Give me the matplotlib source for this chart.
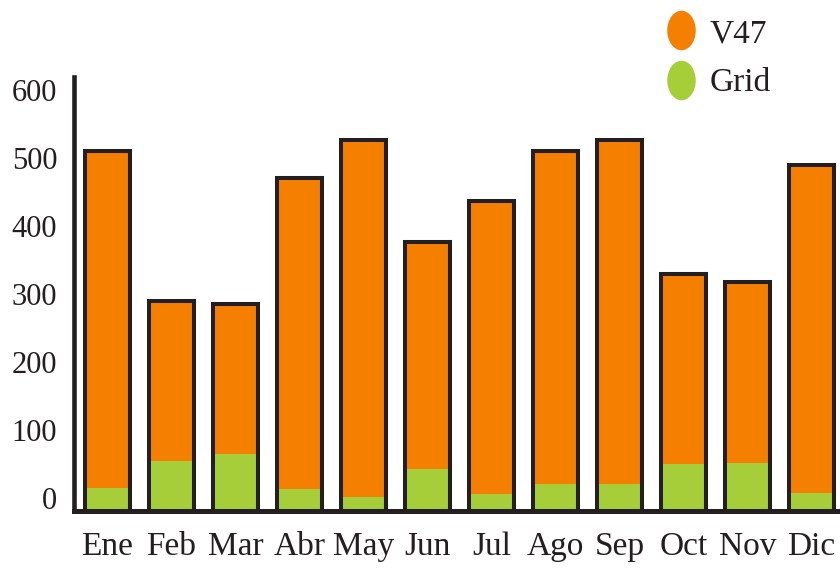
import matplotlib
matplotlib.use("Agg")
import matplotlib.pyplot as plt
import matplotlib.transforms as mtransforms
from matplotlib.lines import Line2D
from matplotlib.path import Path
import numpy as np

plt.rcParams['font.family'] = ['Liberation Serif', 'DejaVu Serif']

months = ['Ene', 'Feb', 'Mar', 'Abr', 'May', 'Jun', 'Jul', 'Ago', 'Sep', 'Oct', 'Nov', 'Dic']
grid = [34, 74, 84, 32, 20, 62, 25, 39, 40, 69, 71, 26]
v47 = [495, 234, 220, 457, 525, 334, 430, 490, 506, 279, 265, 482]
yticks = [0, 100, 200, 300, 400, 500, 600]

orange = '#f57f00'
green = '#a6ce39'
dark = '#231f20'

fig = plt.figure(figsize=(8.4, 5.68), dpi=100)
ax = fig.add_axes([74/840, 57/568, (840-74)/840, 434/568])

x = np.arange(len(months))
total = np.array(grid) + np.array(v47)
ax.bar(x, grid, width=0.7, color=green, linewidth=0)
ax.bar(x, v47, width=0.7, bottom=grid, color=orange, linewidth=0)
# one outline around the whole stack
ax.bar(x, total, width=0.7, fill=False, edgecolor=dark, linewidth=2.9)

ax.set_xlim(-0.523, 11.445)
ax.set_ylim(0, 638)

for side in ['top', 'right']:
    ax.spines[side].set_visible(False)
ax.spines['left'].set_linewidth(3.3)
ax.spines['bottom'].set_linewidth(3.6)
ax.spines['left'].set_color(dark)
ax.spines['bottom'].set_color(dark)
ax.spines['bottom'].set_zorder(5)

ax.set_xticks(x)
ax.set_xticklabels(months, fontsize=24, color=dark)
ax.set_yticks(yticks)
ax.set_yticklabels([str(v) for v in yticks], fontsize=22, color=dark)
ax.tick_params(axis='x', length=0, pad=15)
ax.tick_params(axis='y', length=0, pad=12)

shift = mtransforms.ScaledTranslation(0, 13/100, fig.dpi_scale_trans)
for lbl in ax.get_yticklabels():
    lbl.set_transform(lbl.get_transform() + shift)

circ = Path.unit_circle()
ellipse = Path(circ.vertices * [0.72, 1.0], circ.codes)
handles = [
    Line2D([], [], linestyle='none', marker=ellipse, markersize=28.5,
           markerfacecolor=orange, markeredgewidth=0),
    Line2D([], [], linestyle='none', marker=ellipse, markersize=28.5,
           markerfacecolor=green, markeredgewidth=0),
]
fig.legend(handles, ['V47', 'Grid'], loc='upper left',
           bbox_to_anchor=(644/840, 1 - 2/568), frameon=False,
           fontsize=24, borderpad=0, handlelength=1.2,
           handletextpad=0.27, labelspacing=0.56, labelcolor=dark)

fig.savefig('out.png', dpi=100)
